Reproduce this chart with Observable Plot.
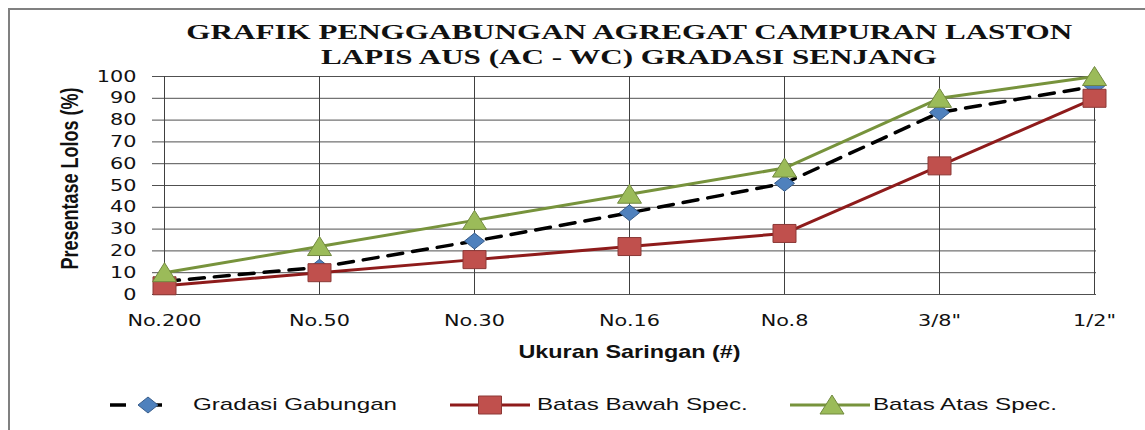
<!DOCTYPE html>
<html><head><meta charset="utf-8">
<script src="https://cdn.jsdelivr.net/npm/d3@7"></script>
<script src="https://cdn.jsdelivr.net/npm/@observablehq/plot@0.6"></script>
<style>
html,body{margin:0;padding:0;background:#fff;overflow:hidden;width:1145px;height:430px;position:relative;}
#frame{position:absolute;left:8px;top:8px;width:1160px;height:440px;border:2px solid #808080;box-sizing:border-box;}
.title{position:absolute;left:0;width:1258px;text-align:center;font-family:"Liberation Serif","Times New Roman",serif;font-weight:bold;font-size:21px;line-height:24px;color:#111;}
.title span{display:inline-block;transform:scaleX(1.48);transform-origin:center;white-space:nowrap;}
#chart{position:absolute;left:0;top:66px;}
.legsym{position:absolute;top:393px;}
.legtxt{position:absolute;top:395px;line-height:20px;font-family:"Liberation Sans",Arial,sans-serif;font-size:17px;color:#111;white-space:nowrap;transform:scaleX(1.42);transform-origin:left center;}
</style>
</head><body>
<div id="frame"></div>
<div class="title" style="top:20px"><span id="t1"></span></div>
<div class="title" style="top:45px"><span id="t2"></span></div>
<div id="chart"></div>
<div id="legend"></div>
<script>
// ---- data ----
const titleLines = ["GRAFIK PENGGABUNGAN AGREGAT CAMPURAN LASTON", "LAPIS AUS (AC - WC) GRADASI SENJANG"];
const categories = ["No.200", "No.50", "No.30", "No.16", "No.8", "3/8\"", "1/2\""];
const gradasiGabungan = [6, 12.5, 24.5, 37.5, 51, 83.5, 95.5];
const batasBawah = [4, 10, 16, 22, 28, 59, 90];
const batasAtas = [10, 22, 34, 46, 58, 90, 100];
const yTicks = [0, 10, 20, 30, 40, 50, 60, 70, 80, 90, 100];
const seriesNames = ["Gradasi Gabungan", "Batas Bawah Spec.", "Batas Atas Spec."];
const xLabel = "Ukuran Saringan (#)";
const yLabel = "Presentase Lolos (%)";

document.getElementById("t1").textContent = titleLines[0];
document.getElementById("t2").textContent = titleLines[1];

// custom (stretched) marker shapes
const symDiamond = {draw(c){c.moveTo(0,-8);c.lineTo(10,0);c.lineTo(0,8);c.lineTo(-10,0);c.closePath();}};
const symSquare = {draw(c){c.moveTo(-11.5,-9);c.lineTo(11.5,-9);c.lineTo(11.5,9);c.lineTo(-11.5,9);c.closePath();}};
const symTriangle = {draw(c){c.moveTo(0,-10);c.lineTo(12,9);c.lineTo(-12,9);c.closePath();}};

const styles = [
  {line:"#000000", width:3.5, dash:"15 10", fill:"#4f81bd", stroke:"#385d8a", sym:symDiamond},
  {line:"#8e1b1b", width:3, dash:null, fill:"#c0504d", stroke:"#8c3836", sym:symSquare},
  {line:"#77933c", width:3, dash:null, fill:"#9bbb59", stroke:"#71893f", sym:symTriangle}
];
const seriesValues = [gradasiGabungan, batasBawah, batasAtas];
const seriesData = seriesValues.map((vals, i) => categories.map((c, j) => ({cat: c, value: vals[j], series: seriesNames[i]})));

const marks = [
  Plot.ruleY(yTicks, {stroke: "#505050", strokeWidth: 1}),
  Plot.ruleX(categories, {stroke: "#404040", strokeWidth: 1}),
  Plot.axisY(yTicks, {tickSize: 10, tickPadding: 16, fontSize: 16, label: null, stroke: "#505050"}),
  Plot.axisX({tickSize: 0, tickPadding: 20, fontSize: 16, label: null}),
];
seriesData.forEach((d, i) => {
  const s = styles[i];
  marks.push(Plot.lineY(d, {x: "cat", y: "value", stroke: s.line, strokeWidth: s.width, strokeDasharray: s.dash || undefined}));
  marks.push(Plot.dot(d, {x: "cat", y: "value", symbol: s.sym, r: 8, fill: s.fill, stroke: s.stroke, strokeWidth: 1}));
});
marks.push(Plot.text([xLabel], {frameAnchor: "bottom", dy: 58, lineAnchor: "middle", textAnchor: "middle", fontWeight: "bold", fontSize: 18, fontFamily: "Liberation Sans, Arial, sans-serif", fill: "#111"}));
marks.push(Plot.text([yLabel], {frameAnchor: "left", dx: -92, dy: -7, rotate: -90, textAnchor: "middle", lineAnchor: "middle", fontWeight: "bold", fontSize: 18, fontFamily: "Liberation Sans Narrow, Liberation Sans, Arial, sans-serif", fill: "#111"}));

const chart = Plot.plot({
  width: 1145, height: 304,
  marginLeft: 162, marginRight: 49, marginTop: 10, marginBottom: 76,
  style: {fontFamily: "DejaVu Sans, sans-serif", fontSize: "16px", color: "#111", background: "transparent", overflow: "visible"},
  x: {type: "point", domain: categories, padding: 0, axis: null},
  y: {domain: [0, 100], axis: null},
  marks
});
document.getElementById("chart").appendChild(chart);

function stretch(el, s) {
  const b = el.getBBox();
  const anchor = getComputedStyle(el).textAnchor;
  const lx = anchor === "end" ? b.x + b.width : anchor === "middle" ? b.x + b.width / 2 : b.x;
  const ly = b.y + b.height / 2;
  const tl = el.transform.baseVal;
  const m = tl.numberOfItems ? tl.consolidate().matrix : el.ownerSVGElement.createSVGMatrix();
  const px = m.a * lx + m.c * ly + m.e;
  const old = el.getAttribute("transform") || "";
  el.setAttribute("transform", `translate(${px},0) scale(${s},1) translate(${-px},0) ${old}`);
}
chart.querySelectorAll('g[aria-label="x-axis tick label"] text, g[aria-label="y-axis tick label"] text').forEach(t => stretch(t, 1.3));
chart.querySelectorAll('g[aria-label="text"] text').forEach(t => { if (t.textContent === xLabel || t.textContent === yLabel) stretch(t, 1.3); });

// ---- legend ----
const legendPos = [{sx: 110, sw: 52, cx: 38, tx: 193}, {sx: 450, sw: 80, cx: 40, tx: 537}, {sx: 790, sw: 80, cx: 42, tx: 873}];
const legend = d3.select("#legend");
seriesNames.forEach((name, i) => {
  const s = styles[i], p = legendPos[i];
  const svg = legend.append("svg").attr("class", "legsym").attr("width", p.sw).attr("height", 24).style("left", p.sx + "px");
  if (s.dash) {
    svg.append("line").attr("x1", 0).attr("x2", 16).attr("y1", 12).attr("y2", 12).attr("stroke", s.line).attr("stroke-width", s.width);
    svg.append("line").attr("x1", p.cx).attr("x2", p.sw).attr("y1", 12).attr("y2", 12).attr("stroke", s.line).attr("stroke-width", s.width);
  } else {
    svg.append("line").attr("x1", 0).attr("x2", p.sw).attr("y1", 12).attr("y2", 12).attr("stroke", s.line).attr("stroke-width", s.width);
  }
  svg.append("path").attr("d", d3.symbol(s.sym)()).attr("transform", `translate(${p.cx},12)`).attr("fill", s.fill).attr("stroke", s.stroke);
  legend.append("div").attr("class", "legtxt").style("left", p.tx + "px").text(name);
});
</script>
</body></html>
